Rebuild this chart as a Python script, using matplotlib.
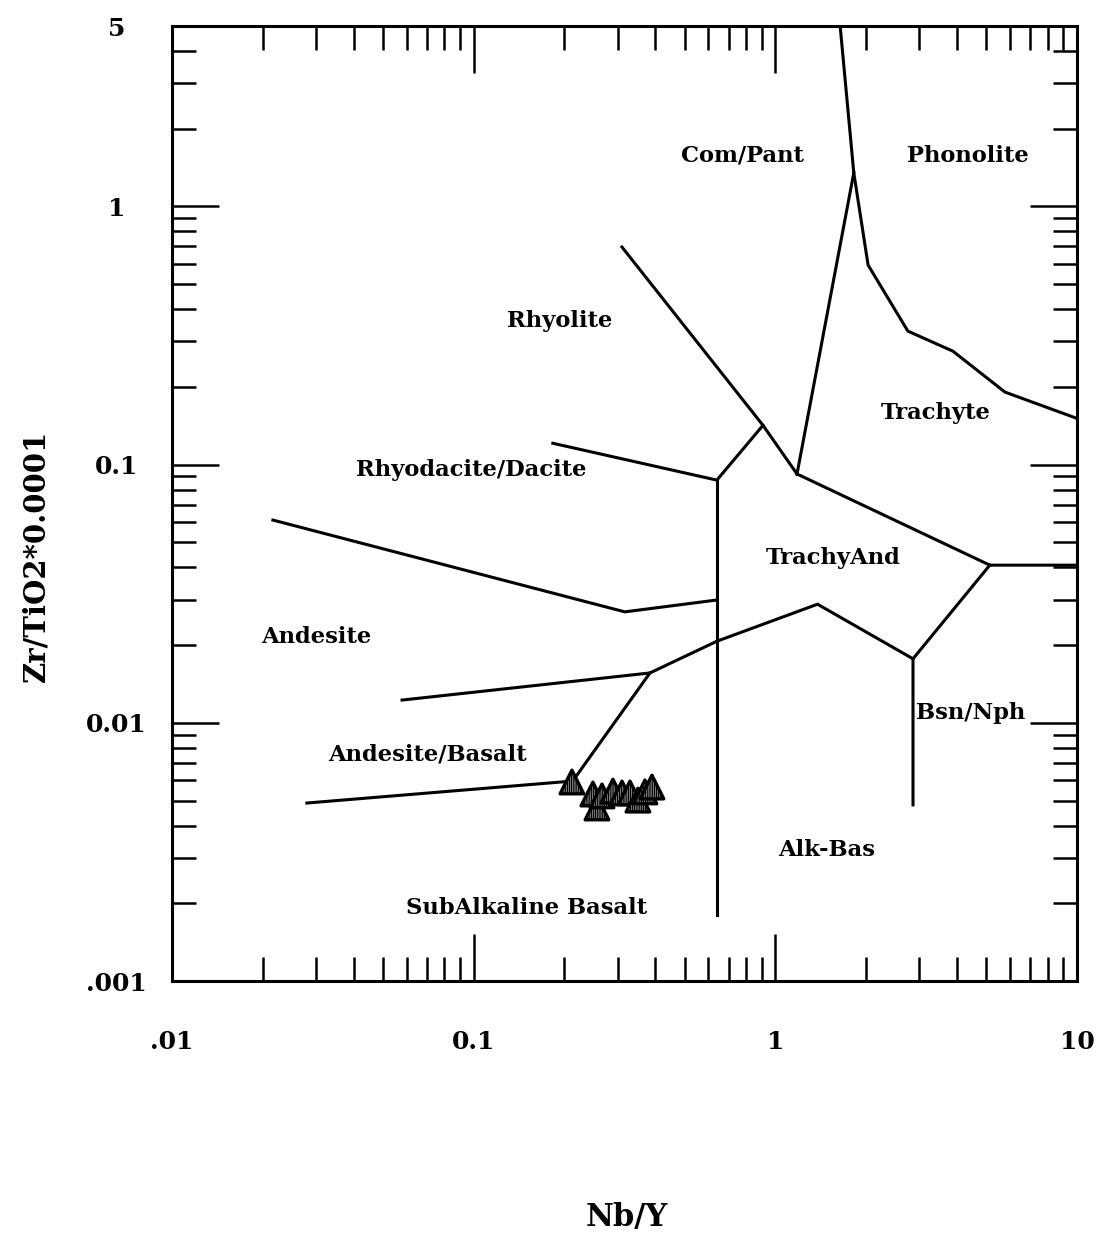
import matplotlib
matplotlib.use("Agg")
import matplotlib.pyplot as plt
from matplotlib.ticker import LogLocator, FixedLocator, FixedFormatter, NullFormatter

# ---- data -------------------------------------------------------------
# boundary polylines (Nb/Y, Zr/TiO2*0.0001)
line_phon_x = [1.64, 1.82, 2.03, 2.75, 3.88, 5.77, 10.0]
line_phon_y = [5.0, 1.35, 0.593, 0.329, 0.275, 0.191, 0.151]
line_compant_x = [1.82, 1.18]
line_compant_y = [1.35, 0.092]
line_rhy_x = [0.310, 0.91, 1.18]
line_rhy_y = [0.697, 0.142, 0.092]
line_trach_x = [1.18, 5.14, 10.0]
line_trach_y = [0.092, 0.0408, 0.0408]
line_bsn_x = [5.14, 2.86, 2.86]
line_bsn_y = [0.0408, 0.0177, 0.00481]
line_tand_x = [2.86, 1.38, 0.640, 0.384, 0.0579]
line_tand_y = [0.0177, 0.0288, 0.0207, 0.0156, 0.01225]
line_andbas_x = [0.384, 0.213, 0.028]
line_andbas_y = [0.0156, 0.00595, 0.00489]
line_vert_x = [0.640, 0.640]
line_vert_y = [0.0871, 0.0018]
line_rhyd_x = [0.183, 0.640, 0.91]
line_rhyd_y = [0.121, 0.0871, 0.142]
line_and_x = [0.0216, 0.317, 0.640]
line_and_y = [0.061, 0.0269, 0.0299]

lines_x = [line_phon_x, line_compant_x, line_rhy_x, line_trach_x, line_bsn_x,
           line_tand_x, line_andbas_x, line_vert_x, line_rhyd_x, line_and_x]
lines_y = [line_phon_y, line_compant_y, line_rhy_y, line_trach_y, line_bsn_y,
           line_tand_y, line_andbas_y, line_vert_y, line_rhyd_y, line_and_y]

# field names and label positions
field_names = ["Com/Pant", "Phonolite", "Rhyolite", "Trachyte", "Rhyodacite/Dacite",
               "TrachyAnd", "Andesite", "Bsn/Nph", "Andesite/Basalt", "Alk-Bas",
               "SubAlkaline Basalt"]
field_x = [0.775, 4.35, 0.193, 3.41, 0.098, 1.56, 0.030, 4.45, 0.070, 1.48, 0.150]
field_y = [1.57, 1.57, 0.36, 0.158, 0.0953, 0.0435, 0.0215, 0.0109, 0.00757, 0.00321, 0.00192]

# samples
sample_nby = [0.2117, 0.2484, 0.2563, 0.2663, 0.2895, 0.3102, 0.3297, 0.3504, 0.3696, 0.3899]
sample_zrti = [0.00590, 0.00530, 0.00468, 0.00521, 0.00544, 0.00535, 0.00535, 0.00502, 0.00540, 0.00564]

xtick_vals = [0.01, 0.1, 1, 10]
xtick_labels = [".01", "0.1", "1", "10"]
ytick_vals = [0.001, 0.01, 0.1, 1, 5]
ytick_labels = [".001", "0.01", "0.1", "1", "5"]

# ---- figure -----------------------------------------------------------
W, H = 1098, 1233
fig = plt.figure(figsize=(W / 100, H / 100), dpi=100)
L, R, T, B = 172, 1077, 26, 981
ax = fig.add_axes([L / W, 1 - B / H, (R - L) / W, (B - T) / H])
ax.set_xscale("log")
ax.set_yscale("log")
ax.set_xlim(0.01, 10)
ax.set_ylim(0.001, 5)

serif = ["DejaVu Serif"]

for xs, ys in zip(lines_x, lines_y):
    ax.plot(xs, ys, color="black", lw=2.2, solid_joinstyle="miter")

for name, fx, fy in zip(field_names, field_x, field_y):
    ax.text(fx, fy, name, ha="center", va="center", family=serif,
            fontweight="bold", fontsize=16.3)

ax.scatter(sample_nby, sample_zrti, marker="^", s=290, facecolor="white",
           edgecolor="black", linewidths=2.4, hatch="|||||||||", zorder=5)

for sp in ax.spines.values():
    sp.set_linewidth(2.2)

ax.xaxis.set_major_locator(FixedLocator(xtick_vals))
ax.xaxis.set_major_formatter(FixedFormatter(xtick_labels))
ax.xaxis.set_minor_locator(LogLocator(base=10, subs=[2, 3, 4, 5, 6, 7, 8, 9]))
ax.xaxis.set_minor_formatter(NullFormatter())
ax.yaxis.set_major_locator(FixedLocator(ytick_vals))
ax.yaxis.set_major_formatter(FixedFormatter(ytick_labels))
ax.yaxis.set_minor_locator(LogLocator(base=10, subs=[2, 3, 4, 5, 6, 7, 8, 9]))
ax.yaxis.set_minor_formatter(NullFormatter())

ax.tick_params(which="both", direction="in", top=True, right=True, width=1.8)
ax.tick_params(which="major", length=34)
ax.tick_params(which="minor", length=17)
ax.tick_params(axis="x", which="major", pad=35)
ax.tick_params(axis="y", which="major", pad=40)

for lab in ax.get_xticklabels():
    lab.set_family(serif)
    lab.set_fontweight("bold")
    lab.set_fontsize(18)
for lab in ax.get_yticklabels():
    lab.set_family(serif)
    lab.set_fontweight("bold")
    lab.set_fontsize(18)
    lab.set_horizontalalignment("center")

ax.set_xlabel("Nb/Y", family=serif, fontweight="bold", fontsize=22)
ax.xaxis.set_label_coords(0.503, -0.248)
ax.xaxis.label.set_va("center")
ax.set_ylabel("Zr/TiO2*0.0001", family=serif, fontweight="bold", fontsize=21)
ax.yaxis.set_label_coords(-0.150, 0.445)
ax.yaxis.label.set_va("center")

fig.savefig("out.png", dpi=100, facecolor="white")
